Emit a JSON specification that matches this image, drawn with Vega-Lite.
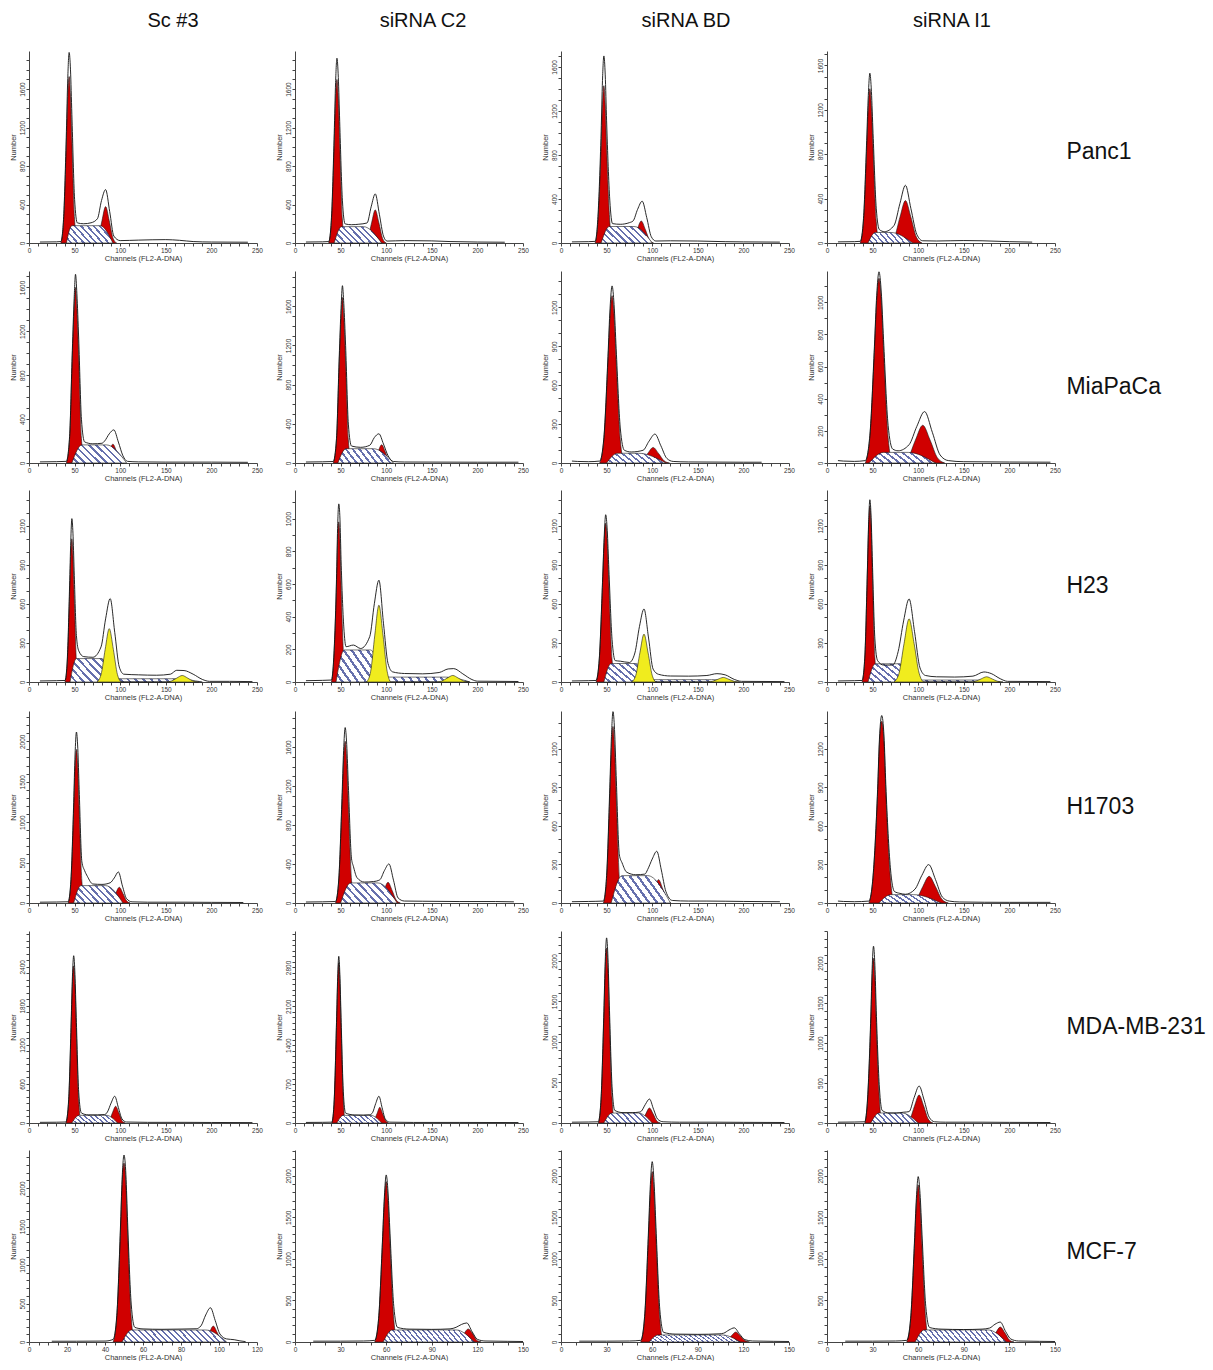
{"$schema":"https://vega.github.io/schema/vega-lite/v6.json","background":"white","padding":{"left":8,"top":10,"right":0,"bottom":0},
"params":[
{"name":"hA","value":{"gradient":"linear","x1":0,"y1":1,"x2":1.2,"y2":0.6,"stops":[{"offset":0,"color":"#fff"},{"offset":0.065,"color":"#fff"},{"offset":0.065,"color":"#6670ad"},{"offset":0.1,"color":"#6670ad"},{"offset":0.1,"color":"#fff"},{"offset":0.165,"color":"#fff"},{"offset":0.165,"color":"#6670ad"},{"offset":0.2,"color":"#6670ad"},{"offset":0.2,"color":"#fff"},{"offset":0.265,"color":"#fff"},{"offset":0.265,"color":"#6670ad"},{"offset":0.3,"color":"#6670ad"},{"offset":0.3,"color":"#fff"},{"offset":0.365,"color":"#fff"},{"offset":0.365,"color":"#6670ad"},{"offset":0.4,"color":"#6670ad"},{"offset":0.4,"color":"#fff"},{"offset":0.465,"color":"#fff"},{"offset":0.465,"color":"#6670ad"},{"offset":0.5,"color":"#6670ad"},{"offset":0.5,"color":"#fff"},{"offset":0.565,"color":"#fff"},{"offset":0.565,"color":"#6670ad"},{"offset":0.6,"color":"#6670ad"},{"offset":0.6,"color":"#fff"},{"offset":0.665,"color":"#fff"},{"offset":0.665,"color":"#6670ad"},{"offset":0.7,"color":"#6670ad"},{"offset":0.7,"color":"#fff"},{"offset":0.765,"color":"#fff"},{"offset":0.765,"color":"#6670ad"},{"offset":0.8,"color":"#6670ad"},{"offset":0.8,"color":"#fff"},{"offset":0.865,"color":"#fff"},{"offset":0.865,"color":"#6670ad"},{"offset":0.9,"color":"#6670ad"},{"offset":0.9,"color":"#fff"},{"offset":0.965,"color":"#fff"},{"offset":0.965,"color":"#6670ad"},{"offset":1,"color":"#6670ad"}]}},
{"name":"hB","value":{"gradient":"linear","x1":0,"y1":1,"x2":1.154,"y2":0.769,"stops":[{"offset":0,"color":"#fff"},{"offset":0.065,"color":"#fff"},{"offset":0.065,"color":"#6670ad"},{"offset":0.1,"color":"#6670ad"},{"offset":0.1,"color":"#fff"},{"offset":0.165,"color":"#fff"},{"offset":0.165,"color":"#6670ad"},{"offset":0.2,"color":"#6670ad"},{"offset":0.2,"color":"#fff"},{"offset":0.265,"color":"#fff"},{"offset":0.265,"color":"#6670ad"},{"offset":0.3,"color":"#6670ad"},{"offset":0.3,"color":"#fff"},{"offset":0.365,"color":"#fff"},{"offset":0.365,"color":"#6670ad"},{"offset":0.4,"color":"#6670ad"},{"offset":0.4,"color":"#fff"},{"offset":0.465,"color":"#fff"},{"offset":0.465,"color":"#6670ad"},{"offset":0.5,"color":"#6670ad"},{"offset":0.5,"color":"#fff"},{"offset":0.565,"color":"#fff"},{"offset":0.565,"color":"#6670ad"},{"offset":0.6,"color":"#6670ad"},{"offset":0.6,"color":"#fff"},{"offset":0.665,"color":"#fff"},{"offset":0.665,"color":"#6670ad"},{"offset":0.7,"color":"#6670ad"},{"offset":0.7,"color":"#fff"},{"offset":0.765,"color":"#fff"},{"offset":0.765,"color":"#6670ad"},{"offset":0.8,"color":"#6670ad"},{"offset":0.8,"color":"#fff"},{"offset":0.865,"color":"#fff"},{"offset":0.865,"color":"#6670ad"},{"offset":0.9,"color":"#6670ad"},{"offset":0.9,"color":"#fff"},{"offset":0.965,"color":"#fff"},{"offset":0.965,"color":"#6670ad"},{"offset":1,"color":"#6670ad"}]}},
{"name":"hC","value":{"gradient":"linear","x1":0,"y1":1,"x2":1.135,"y2":0.811,"stops":[{"offset":0,"color":"#fff"},{"offset":0.0325,"color":"#fff"},{"offset":0.0325,"color":"#6670ad"},{"offset":0.05,"color":"#6670ad"},{"offset":0.05,"color":"#fff"},{"offset":0.0825,"color":"#fff"},{"offset":0.0825,"color":"#6670ad"},{"offset":0.1,"color":"#6670ad"},{"offset":0.1,"color":"#fff"},{"offset":0.1325,"color":"#fff"},{"offset":0.1325,"color":"#6670ad"},{"offset":0.15,"color":"#6670ad"},{"offset":0.15,"color":"#fff"},{"offset":0.1825,"color":"#fff"},{"offset":0.1825,"color":"#6670ad"},{"offset":0.2,"color":"#6670ad"},{"offset":0.2,"color":"#fff"},{"offset":0.2325,"color":"#fff"},{"offset":0.2325,"color":"#6670ad"},{"offset":0.25,"color":"#6670ad"},{"offset":0.25,"color":"#fff"},{"offset":0.2825,"color":"#fff"},{"offset":0.2825,"color":"#6670ad"},{"offset":0.3,"color":"#6670ad"},{"offset":0.3,"color":"#fff"},{"offset":0.3325,"color":"#fff"},{"offset":0.3325,"color":"#6670ad"},{"offset":0.35,"color":"#6670ad"},{"offset":0.35,"color":"#fff"},{"offset":0.3825,"color":"#fff"},{"offset":0.3825,"color":"#6670ad"},{"offset":0.4,"color":"#6670ad"},{"offset":0.4,"color":"#fff"},{"offset":0.4325,"color":"#fff"},{"offset":0.4325,"color":"#6670ad"},{"offset":0.45,"color":"#6670ad"},{"offset":0.45,"color":"#fff"},{"offset":0.4825,"color":"#fff"},{"offset":0.4825,"color":"#6670ad"},{"offset":0.5,"color":"#6670ad"},{"offset":0.5,"color":"#fff"},{"offset":0.5325,"color":"#fff"},{"offset":0.5325,"color":"#6670ad"},{"offset":0.55,"color":"#6670ad"},{"offset":0.55,"color":"#fff"},{"offset":0.5825,"color":"#fff"},{"offset":0.5825,"color":"#6670ad"},{"offset":0.6,"color":"#6670ad"},{"offset":0.6,"color":"#fff"},{"offset":0.6325,"color":"#fff"},{"offset":0.6325,"color":"#6670ad"},{"offset":0.65,"color":"#6670ad"},{"offset":0.65,"color":"#fff"},{"offset":0.6825,"color":"#fff"},{"offset":0.6825,"color":"#6670ad"},{"offset":0.7,"color":"#6670ad"},{"offset":0.7,"color":"#fff"},{"offset":0.7325,"color":"#fff"},{"offset":0.7325,"color":"#6670ad"},{"offset":0.75,"color":"#6670ad"},{"offset":0.75,"color":"#fff"},{"offset":0.7825,"color":"#fff"},{"offset":0.7825,"color":"#6670ad"},{"offset":0.8,"color":"#6670ad"},{"offset":0.8,"color":"#fff"},{"offset":0.8325,"color":"#fff"},{"offset":0.8325,"color":"#6670ad"},{"offset":0.85,"color":"#6670ad"},{"offset":0.85,"color":"#fff"},{"offset":0.8825,"color":"#fff"},{"offset":0.8825,"color":"#6670ad"},{"offset":0.9,"color":"#6670ad"},{"offset":0.9,"color":"#fff"},{"offset":0.9325,"color":"#fff"},{"offset":0.9325,"color":"#6670ad"},{"offset":0.95,"color":"#6670ad"},{"offset":0.95,"color":"#fff"},{"offset":0.9825,"color":"#fff"},{"offset":0.9825,"color":"#6670ad"},{"offset":1,"color":"#6670ad"}]}},
{"name":"hD","value":{"gradient":"linear","x1":0,"y1":1,"x2":1.098,"y2":0.878,"stops":[{"offset":0,"color":"#fff"},{"offset":0.0325,"color":"#fff"},{"offset":0.0325,"color":"#6670ad"},{"offset":0.05,"color":"#6670ad"},{"offset":0.05,"color":"#fff"},{"offset":0.0825,"color":"#fff"},{"offset":0.0825,"color":"#6670ad"},{"offset":0.1,"color":"#6670ad"},{"offset":0.1,"color":"#fff"},{"offset":0.1325,"color":"#fff"},{"offset":0.1325,"color":"#6670ad"},{"offset":0.15,"color":"#6670ad"},{"offset":0.15,"color":"#fff"},{"offset":0.1825,"color":"#fff"},{"offset":0.1825,"color":"#6670ad"},{"offset":0.2,"color":"#6670ad"},{"offset":0.2,"color":"#fff"},{"offset":0.2325,"color":"#fff"},{"offset":0.2325,"color":"#6670ad"},{"offset":0.25,"color":"#6670ad"},{"offset":0.25,"color":"#fff"},{"offset":0.2825,"color":"#fff"},{"offset":0.2825,"color":"#6670ad"},{"offset":0.3,"color":"#6670ad"},{"offset":0.3,"color":"#fff"},{"offset":0.3325,"color":"#fff"},{"offset":0.3325,"color":"#6670ad"},{"offset":0.35,"color":"#6670ad"},{"offset":0.35,"color":"#fff"},{"offset":0.3825,"color":"#fff"},{"offset":0.3825,"color":"#6670ad"},{"offset":0.4,"color":"#6670ad"},{"offset":0.4,"color":"#fff"},{"offset":0.4325,"color":"#fff"},{"offset":0.4325,"color":"#6670ad"},{"offset":0.45,"color":"#6670ad"},{"offset":0.45,"color":"#fff"},{"offset":0.4825,"color":"#fff"},{"offset":0.4825,"color":"#6670ad"},{"offset":0.5,"color":"#6670ad"},{"offset":0.5,"color":"#fff"},{"offset":0.5325,"color":"#fff"},{"offset":0.5325,"color":"#6670ad"},{"offset":0.55,"color":"#6670ad"},{"offset":0.55,"color":"#fff"},{"offset":0.5825,"color":"#fff"},{"offset":0.5825,"color":"#6670ad"},{"offset":0.6,"color":"#6670ad"},{"offset":0.6,"color":"#fff"},{"offset":0.6325,"color":"#fff"},{"offset":0.6325,"color":"#6670ad"},{"offset":0.65,"color":"#6670ad"},{"offset":0.65,"color":"#fff"},{"offset":0.6825,"color":"#fff"},{"offset":0.6825,"color":"#6670ad"},{"offset":0.7,"color":"#6670ad"},{"offset":0.7,"color":"#fff"},{"offset":0.7325,"color":"#fff"},{"offset":0.7325,"color":"#6670ad"},{"offset":0.75,"color":"#6670ad"},{"offset":0.75,"color":"#fff"},{"offset":0.7825,"color":"#fff"},{"offset":0.7825,"color":"#6670ad"},{"offset":0.8,"color":"#6670ad"},{"offset":0.8,"color":"#fff"},{"offset":0.8325,"color":"#fff"},{"offset":0.8325,"color":"#6670ad"},{"offset":0.85,"color":"#6670ad"},{"offset":0.85,"color":"#fff"},{"offset":0.8825,"color":"#fff"},{"offset":0.8825,"color":"#6670ad"},{"offset":0.9,"color":"#6670ad"},{"offset":0.9,"color":"#fff"},{"offset":0.9325,"color":"#fff"},{"offset":0.9325,"color":"#6670ad"},{"offset":0.95,"color":"#6670ad"},{"offset":0.95,"color":"#fff"},{"offset":0.9825,"color":"#fff"},{"offset":0.9825,"color":"#6670ad"},{"offset":1,"color":"#6670ad"}]}}
],
"datasets":{
"p11":[{"k":"r","x":35,"y":0},{"k":"r","x":38,"y":242},{"k":"r","x":41,"y":1055},{"k":"r","x":42.5,"y":1522},{"k":"r","x":44,"y":1730},{"k":"r","x":45.5,"y":1522},{"k":"r","x":47,"y":1055},{"k":"r","x":50,"y":242},{"k":"r","x":53,"y":0},{"k":"r","x":72,"y":0},{"k":"r","x":76,"y":53},{"k":"r","x":80,"y":231},{"k":"r","x":84,"y":378},{"k":"r","x":88,"y":231},{"k":"r","x":92,"y":53},{"k":"r","x":96,"y":0},
{"k":"s","x":41,"y":0},{"k":"s","x":47,"y":180},{"k":"s","x":78,"y":180},{"k":"s","x":92,"y":0},
{"k":"t","x":12,"y":10},{"k":"t","x":30,"y":12},{"k":"t","x":35,"y":15},{"k":"t","x":38,"y":273},{"k":"t","x":41,"y":1157},{"k":"t","x":42.5,"y":1709},{"k":"t","x":44,"y":1980},{"k":"t","x":45.5,"y":1799},{"k":"t","x":47,"y":1337},{"k":"t","x":50,"y":453},{"k":"t","x":53,"y":209},{"k":"t","x":60,"y":200},{"k":"t","x":68,"y":210},{"k":"t","x":75,"y":252},{"k":"t","x":79.5,"y":441},{"k":"t","x":84,"y":555},{"k":"t","x":88.5,"y":325},{"k":"t","x":93,"y":72},{"k":"t","x":100,"y":25},{"k":"t","x":120,"y":30},{"k":"t","x":150,"y":35},{"k":"t","x":165,"y":28},{"k":"t","x":180,"y":15},{"k":"t","x":200,"y":10},{"k":"t","x":240,"y":8}],
"p12":[{"k":"r","x":37,"y":0},{"k":"r","x":40,"y":238},{"k":"r","x":43,"y":1037},{"k":"r","x":44.5,"y":1496},{"k":"r","x":46,"y":1700},{"k":"r","x":47.5,"y":1496},{"k":"r","x":49,"y":1037},{"k":"r","x":52,"y":238},{"k":"r","x":55,"y":0},{"k":"r","x":76,"y":0},{"k":"r","x":80,"y":48},{"k":"r","x":84,"y":210},{"k":"r","x":88,"y":344},{"k":"r","x":92,"y":210},{"k":"r","x":96,"y":48},{"k":"r","x":100,"y":0},
{"k":"s","x":43,"y":0},{"k":"s","x":51,"y":170},{"k":"s","x":75,"y":170},{"k":"s","x":95,"y":0},
{"k":"t","x":12,"y":10},{"k":"t","x":30,"y":12},{"k":"t","x":37,"y":15},{"k":"t","x":40,"y":268},{"k":"t","x":43,"y":1136},{"k":"t","x":44.5,"y":1666},{"k":"t","x":46,"y":1920},{"k":"t","x":47.5,"y":1719},{"k":"t","x":49,"y":1264},{"k":"t","x":52,"y":438},{"k":"t","x":55,"y":198},{"k":"t","x":62,"y":190},{"k":"t","x":70,"y":195},{"k":"t","x":79,"y":208},{"k":"t","x":83.5,"y":376},{"k":"t","x":88,"y":510},{"k":"t","x":92.5,"y":299},{"k":"t","x":97,"y":72},{"k":"t","x":101,"y":20},{"k":"t","x":120,"y":25},{"k":"t","x":150,"y":22},{"k":"t","x":170,"y":15},{"k":"t","x":200,"y":10},{"k":"t","x":230,"y":8}],
"p13":[{"k":"r","x":37.5,"y":0},{"k":"r","x":40.5,"y":200},{"k":"r","x":44,"y":872},{"k":"r","x":45.5,"y":1258},{"k":"r","x":47,"y":1430},{"k":"r","x":48.5,"y":1258},{"k":"r","x":50,"y":872},{"k":"r","x":53.5,"y":200},{"k":"r","x":56.5,"y":0},{"k":"r","x":74.5,"y":0},{"k":"r","x":79,"y":28},{"k":"r","x":83.5,"y":122},{"k":"r","x":88,"y":200},{"k":"r","x":92.5,"y":122},{"k":"r","x":97,"y":28},{"k":"r","x":101.5,"y":0},
{"k":"s","x":44,"y":0},{"k":"s","x":53,"y":150},{"k":"s","x":80,"y":150},{"k":"s","x":100,"y":0},
{"k":"t","x":12,"y":10},{"k":"t","x":30,"y":12},{"k":"t","x":37.5,"y":15},{"k":"t","x":40.5,"y":240},{"k":"t","x":44,"y":1010},{"k":"t","x":45.5,"y":1478},{"k":"t","x":47,"y":1700},{"k":"t","x":48.5,"y":1528},{"k":"t","x":50,"y":1110},{"k":"t","x":53.5,"y":390},{"k":"t","x":56.5,"y":176},{"k":"t","x":65,"y":170},{"k":"t","x":75,"y":185},{"k":"t","x":79,"y":200},{"k":"t","x":84,"y":306},{"k":"t","x":89,"y":380},{"k":"t","x":94,"y":231},{"k":"t","x":99,"y":57},{"k":"t","x":104,"y":18},{"k":"t","x":120,"y":20},{"k":"t","x":150,"y":18},{"k":"t","x":180,"y":12},{"k":"t","x":200,"y":10},{"k":"t","x":240,"y":8}],
"p14":[{"k":"r","x":36.5,"y":0},{"k":"r","x":40,"y":195},{"k":"r","x":43.5,"y":848},{"k":"r","x":45.3,"y":1223},{"k":"r","x":47,"y":1390},{"k":"r","x":48.7,"y":1223},{"k":"r","x":50.5,"y":848},{"k":"r","x":54,"y":195},{"k":"r","x":57.5,"y":0},{"k":"r","x":68,"y":0},{"k":"r","x":74,"y":53},{"k":"r","x":80,"y":233},{"k":"r","x":86,"y":382},{"k":"r","x":92,"y":233},{"k":"r","x":98,"y":53},{"k":"r","x":104,"y":0},
{"k":"s","x":45,"y":0},{"k":"s","x":53,"y":95},{"k":"s","x":70,"y":95},{"k":"s","x":94,"y":0},
{"k":"t","x":12,"y":10},{"k":"t","x":30,"y":12},{"k":"t","x":36.5,"y":15},{"k":"t","x":40,"y":219},{"k":"t","x":43.5,"y":923},{"k":"t","x":45.3,"y":1330},{"k":"t","x":47,"y":1530},{"k":"t","x":48.7,"y":1366},{"k":"t","x":50.5,"y":988},{"k":"t","x":54,"y":314},{"k":"t","x":57.5,"y":120},{"k":"t","x":63,"y":102},{"k":"t","x":73.5,"y":158},{"k":"t","x":80,"y":357},{"k":"t","x":86,"y":520},{"k":"t","x":92,"y":310},{"k":"t","x":98.5,"y":77},{"k":"t","x":105,"y":20},{"k":"t","x":120,"y":18},{"k":"t","x":150,"y":22},{"k":"t","x":170,"y":20},{"k":"t","x":200,"y":12},{"k":"t","x":225,"y":8}],
"p21":[{"k":"r","x":41,"y":0},{"k":"r","x":44.5,"y":224},{"k":"r","x":47.5,"y":976},{"k":"r","x":49.5,"y":1408},{"k":"r","x":51,"y":1600},{"k":"r","x":52.5,"y":1408},{"k":"r","x":54.5,"y":976},{"k":"r","x":57.5,"y":224},{"k":"r","x":61,"y":0},{"k":"r","x":80,"y":0},{"k":"r","x":84,"y":24},{"k":"r","x":88,"y":105},{"k":"r","x":92,"y":172},{"k":"r","x":96,"y":105},{"k":"r","x":100,"y":24},{"k":"r","x":104,"y":0},
{"k":"s","x":47,"y":0},{"k":"s","x":58,"y":165},{"k":"s","x":85,"y":165},{"k":"s","x":107,"y":0},
{"k":"t","x":12,"y":10},{"k":"t","x":30,"y":12},{"k":"t","x":41,"y":15},{"k":"t","x":44.5,"y":241},{"k":"t","x":47.5,"y":1024},{"k":"t","x":49.5,"y":1499},{"k":"t","x":51,"y":1720},{"k":"t","x":52.5,"y":1544},{"k":"t","x":54.5,"y":1129},{"k":"t","x":57.5,"y":399},{"k":"t","x":61,"y":192},{"k":"t","x":70,"y":175},{"k":"t","x":80,"y":180},{"k":"t","x":83,"y":201},{"k":"t","x":88,"y":266},{"k":"t","x":93,"y":302},{"k":"t","x":98,"y":191},{"k":"t","x":103,"y":66},{"k":"t","x":108,"y":15},{"k":"t","x":120,"y":10},{"k":"t","x":150,"y":8},{"k":"t","x":200,"y":8},{"k":"t","x":240,"y":6}],
"p22":[{"k":"r","x":42,"y":0},{"k":"r","x":45.5,"y":237},{"k":"r","x":48.5,"y":1031},{"k":"r","x":50.5,"y":1487},{"k":"r","x":52,"y":1690},{"k":"r","x":53.5,"y":1487},{"k":"r","x":55.5,"y":1031},{"k":"r","x":58.5,"y":237},{"k":"r","x":62,"y":0},{"k":"r","x":83,"y":0},{"k":"r","x":87,"y":26},{"k":"r","x":91,"y":113},{"k":"r","x":95,"y":186},{"k":"r","x":99,"y":113},{"k":"r","x":103,"y":26},{"k":"r","x":107,"y":0},
{"k":"s","x":47,"y":0},{"k":"s","x":56,"y":146},{"k":"s","x":86,"y":146},{"k":"s","x":108,"y":0},
{"k":"t","x":12,"y":10},{"k":"t","x":30,"y":12},{"k":"t","x":42,"y":15},{"k":"t","x":45.5,"y":251},{"k":"t","x":48.5,"y":1083},{"k":"t","x":50.5,"y":1580},{"k":"t","x":52,"y":1810},{"k":"t","x":53.5,"y":1628},{"k":"t","x":55.5,"y":1197},{"k":"t","x":58.5,"y":397},{"k":"t","x":62,"y":173},{"k":"t","x":72,"y":160},{"k":"t","x":82,"y":181},{"k":"t","x":87,"y":260},{"k":"t","x":92,"y":298},{"k":"t","x":97,"y":194},{"k":"t","x":102,"y":75},{"k":"t","x":108,"y":15},{"k":"t","x":120,"y":10},{"k":"t","x":200,"y":8},{"k":"t","x":245,"y":8}],
"p23":[{"k":"r","x":42.5,"y":0},{"k":"r","x":47,"y":181},{"k":"r","x":51.5,"y":787},{"k":"r","x":53.8,"y":1135},{"k":"r","x":56,"y":1290},{"k":"r","x":58.2,"y":1135},{"k":"r","x":60.5,"y":787},{"k":"r","x":65,"y":181},{"k":"r","x":69.5,"y":0},{"k":"r","x":83,"y":0},{"k":"r","x":89,"y":17},{"k":"r","x":95,"y":73},{"k":"r","x":101,"y":120},{"k":"r","x":107,"y":73},{"k":"r","x":113,"y":17},{"k":"r","x":119,"y":0},
{"k":"s","x":50,"y":0},{"k":"s","x":62,"y":75},{"k":"s","x":85,"y":75},{"k":"s","x":115,"y":0},
{"k":"t","x":12,"y":15},{"k":"t","x":18,"y":12},{"k":"t","x":30,"y":10},{"k":"t","x":42.5,"y":15},{"k":"t","x":47,"y":195},{"k":"t","x":51.5,"y":822},{"k":"t","x":53.8,"y":1194},{"k":"t","x":56,"y":1365},{"k":"t","x":58.2,"y":1221},{"k":"t","x":60.5,"y":880},{"k":"t","x":65,"y":270},{"k":"t","x":69.5,"y":98},{"k":"t","x":77,"y":85},{"k":"t","x":90,"y":98},{"k":"t","x":96.5,"y":168},{"k":"t","x":103,"y":223},{"k":"t","x":109.5,"y":133},{"k":"t","x":116,"y":36},{"k":"t","x":123,"y":12},{"k":"t","x":140,"y":8},{"k":"t","x":200,"y":6},{"k":"t","x":220,"y":6}],
"p24":[{"k":"r","x":42,"y":0},{"k":"r","x":47,"y":161},{"k":"r","x":52,"y":702},{"k":"r","x":54.5,"y":1012},{"k":"r","x":57,"y":1150},{"k":"r","x":59.5,"y":1012},{"k":"r","x":62,"y":702},{"k":"r","x":67,"y":161},{"k":"r","x":72,"y":0},{"k":"r","x":81,"y":0},{"k":"r","x":89,"y":33},{"k":"r","x":97,"y":143},{"k":"r","x":105,"y":235},{"k":"r","x":113,"y":143},{"k":"r","x":121,"y":33},{"k":"r","x":129,"y":0},
{"k":"s","x":46,"y":0},{"k":"s","x":62,"y":66},{"k":"s","x":89,"y":66},{"k":"s","x":119,"y":0},
{"k":"t","x":12,"y":15},{"k":"t","x":18,"y":12},{"k":"t","x":30,"y":10},{"k":"t","x":42,"y":15},{"k":"t","x":47,"y":173},{"k":"t","x":52,"y":727},{"k":"t","x":54.5,"y":1044},{"k":"t","x":57,"y":1190},{"k":"t","x":59.5,"y":1064},{"k":"t","x":62,"y":768},{"k":"t","x":67,"y":235},{"k":"t","x":72,"y":87},{"k":"t","x":78,"y":76},{"k":"t","x":90,"y":114},{"k":"t","x":98.5,"y":228},{"k":"t","x":107,"y":320},{"k":"t","x":115.5,"y":191},{"k":"t","x":124,"y":50},{"k":"t","x":133,"y":15},{"k":"t","x":150,"y":8},{"k":"t","x":200,"y":6},{"k":"t","x":245,"y":5}],
"p31":[{"k":"r","x":39.5,"y":0},{"k":"r","x":42,"y":154},{"k":"r","x":44.5,"y":671},{"k":"r","x":45.8,"y":968},{"k":"r","x":47,"y":1100},{"k":"r","x":48.2,"y":968},{"k":"r","x":49.5,"y":671},{"k":"r","x":52,"y":154},{"k":"r","x":54.5,"y":0},
{"k":"y","x":74.5,"y":0},{"k":"y","x":79,"y":57},{"k":"y","x":83.5,"y":250},{"k":"y","x":88,"y":410},{"k":"y","x":92.5,"y":250},{"k":"y","x":97,"y":57},{"k":"y","x":101.5,"y":0},{"k":"y","x":150,"y":0},{"k":"y","x":156,"y":7},{"k":"y","x":162,"y":30},{"k":"y","x":168,"y":50},{"k":"y","x":174,"y":30},{"k":"y","x":180,"y":7},{"k":"y","x":186,"y":0},
{"k":"s","x":45,"y":0},{"k":"s","x":52,"y":180},{"k":"s","x":80,"y":180},{"k":"s","x":92,"y":25},{"k":"s","x":160,"y":25},{"k":"s","x":190,"y":0},
{"k":"t","x":12,"y":8},{"k":"t","x":30,"y":10},{"k":"t","x":39.5,"y":12},{"k":"t","x":42,"y":177},{"k":"t","x":44.5,"y":738},{"k":"t","x":45.8,"y":1082},{"k":"t","x":47,"y":1255},{"k":"t","x":48.2,"y":1143},{"k":"t","x":49.5,"y":854},{"k":"t","x":52,"y":357},{"k":"t","x":54.5,"y":240},{"k":"t","x":60,"y":195},{"k":"t","x":70,"y":190},{"k":"t","x":79,"y":270},{"k":"t","x":84,"y":485},{"k":"t","x":89,"y":641},{"k":"t","x":94,"y":382},{"k":"t","x":99,"y":115},{"k":"t","x":104,"y":60},{"k":"t","x":120,"y":55},{"k":"t","x":140,"y":52},{"k":"t","x":155,"y":60},{"k":"t","x":162,"y":90},{"k":"t","x":170,"y":88},{"k":"t","x":180,"y":60},{"k":"t","x":190,"y":20},{"k":"t","x":198,"y":5},{"k":"t","x":220,"y":5},{"k":"t","x":245,"y":3}],
"p32":[{"k":"r","x":40,"y":0},{"k":"r","x":42.5,"y":137},{"k":"r","x":45.5,"y":598},{"k":"r","x":46.7,"y":862},{"k":"r","x":48,"y":980},{"k":"r","x":49.3,"y":862},{"k":"r","x":50.5,"y":598},{"k":"r","x":53.5,"y":137},{"k":"r","x":56,"y":0},
{"k":"y","x":78.5,"y":0},{"k":"y","x":83,"y":66},{"k":"y","x":87.5,"y":287},{"k":"y","x":92,"y":470},{"k":"y","x":96.5,"y":287},{"k":"y","x":101,"y":66},{"k":"y","x":105.5,"y":0},{"k":"y","x":155,"y":0},{"k":"y","x":161,"y":6},{"k":"y","x":167,"y":24},{"k":"y","x":173,"y":40},{"k":"y","x":179,"y":24},{"k":"y","x":185,"y":6},{"k":"y","x":191,"y":0},
{"k":"s","x":45,"y":0},{"k":"s","x":54,"y":196},{"k":"s","x":83,"y":196},{"k":"s","x":97,"y":30},{"k":"s","x":165,"y":30},{"k":"s","x":192,"y":0},
{"k":"t","x":12,"y":8},{"k":"t","x":30,"y":10},{"k":"t","x":40,"y":12},{"k":"t","x":42.5,"y":152},{"k":"t","x":45.5,"y":629},{"k":"t","x":46.7,"y":940},{"k":"t","x":48,"y":1090},{"k":"t","x":49.3,"y":997},{"k":"t","x":50.5,"y":749},{"k":"t","x":53.5,"y":337},{"k":"t","x":56,"y":216},{"k":"t","x":64,"y":226},{"k":"t","x":72,"y":205},{"k":"t","x":82,"y":279},{"k":"t","x":87,"y":479},{"k":"t","x":92,"y":623},{"k":"t","x":97,"y":360},{"k":"t","x":102,"y":113},{"k":"t","x":107,"y":62},{"k":"t","x":120,"y":52},{"k":"t","x":140,"y":50},{"k":"t","x":158,"y":58},{"k":"t","x":168,"y":80},{"k":"t","x":174,"y":82},{"k":"t","x":184,"y":50},{"k":"t","x":194,"y":15},{"k":"t","x":200,"y":5},{"k":"t","x":245,"y":3}],
"p33":[{"k":"r","x":38.5,"y":0},{"k":"r","x":42,"y":171},{"k":"r","x":45.5,"y":744},{"k":"r","x":47.3,"y":1074},{"k":"r","x":49,"y":1220},{"k":"r","x":50.7,"y":1074},{"k":"r","x":52.5,"y":744},{"k":"r","x":56,"y":171},{"k":"r","x":59.5,"y":0},
{"k":"y","x":77.5,"y":0},{"k":"y","x":82,"y":52},{"k":"y","x":86.5,"y":224},{"k":"y","x":91,"y":368},{"k":"y","x":95.5,"y":224},{"k":"y","x":100,"y":52},{"k":"y","x":104.5,"y":0},{"k":"y","x":160,"y":0},{"k":"y","x":166,"y":5},{"k":"y","x":172,"y":21},{"k":"y","x":178,"y":35},{"k":"y","x":184,"y":21},{"k":"y","x":190,"y":5},{"k":"y","x":196,"y":0},
{"k":"s","x":47,"y":0},{"k":"s","x":55,"y":142},{"k":"s","x":83,"y":142},{"k":"s","x":93,"y":18},{"k":"s","x":165,"y":18},{"k":"s","x":190,"y":0},
{"k":"t","x":12,"y":8},{"k":"t","x":30,"y":10},{"k":"t","x":38.5,"y":12},{"k":"t","x":42,"y":183},{"k":"t","x":45.5,"y":766},{"k":"t","x":47.3,"y":1105},{"k":"t","x":49,"y":1285},{"k":"t","x":50.7,"y":1166},{"k":"t","x":52.5,"y":864},{"k":"t","x":56,"y":325},{"k":"t","x":59.5,"y":164},{"k":"t","x":65,"y":160},{"k":"t","x":75,"y":150},{"k":"t","x":81,"y":223},{"k":"t","x":86,"y":425},{"k":"t","x":91,"y":561},{"k":"t","x":96,"y":338},{"k":"t","x":101,"y":99},{"k":"t","x":107,"y":59},{"k":"t","x":120,"y":46},{"k":"t","x":140,"y":45},{"k":"t","x":160,"y":50},{"k":"t","x":171,"y":64},{"k":"t","x":180,"y":55},{"k":"t","x":190,"y":20},{"k":"t","x":198,"y":5},{"k":"t","x":245,"y":3}],
"p34":[{"k":"r","x":38.5,"y":0},{"k":"r","x":41.5,"y":189},{"k":"r","x":44.2,"y":824},{"k":"r","x":45.6,"y":1188},{"k":"r","x":47,"y":1350},{"k":"r","x":48.4,"y":1188},{"k":"r","x":49.8,"y":824},{"k":"r","x":52.5,"y":189},{"k":"r","x":55.5,"y":0},
{"k":"y","x":73.5,"y":0},{"k":"y","x":79,"y":68},{"k":"y","x":84.5,"y":296},{"k":"y","x":90,"y":485},{"k":"y","x":95.5,"y":296},{"k":"y","x":101,"y":68},{"k":"y","x":106.5,"y":0},{"k":"y","x":157,"y":0},{"k":"y","x":163,"y":6},{"k":"y","x":169,"y":24},{"k":"y","x":175,"y":40},{"k":"y","x":181,"y":24},{"k":"y","x":187,"y":6},{"k":"y","x":193,"y":0},
{"k":"s","x":45,"y":0},{"k":"s","x":53,"y":140},{"k":"s","x":80,"y":140},{"k":"s","x":92,"y":15},{"k":"s","x":165,"y":15},{"k":"s","x":190,"y":0},
{"k":"t","x":12,"y":8},{"k":"t","x":30,"y":10},{"k":"t","x":38.5,"y":12},{"k":"t","x":41.5,"y":200},{"k":"t","x":44.2,"y":837},{"k":"t","x":45.6,"y":1213},{"k":"t","x":47,"y":1400},{"k":"t","x":48.4,"y":1262},{"k":"t","x":49.8,"y":921},{"k":"t","x":52.5,"y":331},{"k":"t","x":55.5,"y":164},{"k":"t","x":62,"y":130},{"k":"t","x":72,"y":130},{"k":"t","x":78,"y":233},{"k":"t","x":84,"y":469},{"k":"t","x":90,"y":638},{"k":"t","x":96,"y":386},{"k":"t","x":102,"y":108},{"k":"t","x":108,"y":50},{"k":"t","x":120,"y":40},{"k":"t","x":140,"y":38},{"k":"t","x":160,"y":45},{"k":"t","x":172,"y":77},{"k":"t","x":180,"y":65},{"k":"t","x":190,"y":25},{"k":"t","x":198,"y":5},{"k":"t","x":245,"y":3}],
"p41":[{"k":"r","x":43,"y":0},{"k":"r","x":46,"y":266},{"k":"r","x":49,"y":1159},{"k":"r","x":50.5,"y":1672},{"k":"r","x":52,"y":1900},{"k":"r","x":53.5,"y":1672},{"k":"r","x":55,"y":1159},{"k":"r","x":58,"y":266},{"k":"r","x":61,"y":0},{"k":"r","x":87,"y":0},{"k":"r","x":91,"y":27},{"k":"r","x":95,"y":119},{"k":"r","x":99,"y":195},{"k":"r","x":103,"y":119},{"k":"r","x":107,"y":27},{"k":"r","x":111,"y":0},
{"k":"s","x":49,"y":0},{"k":"s","x":57,"y":215},{"k":"s","x":84,"y":215},{"k":"s","x":103,"y":0},
{"k":"t","x":12,"y":10},{"k":"t","x":30,"y":12},{"k":"t","x":43,"y":15},{"k":"t","x":46,"y":293},{"k":"t","x":49,"y":1245},{"k":"t","x":50.5,"y":1831},{"k":"t","x":52,"y":2115},{"k":"t","x":53.5,"y":1912},{"k":"t","x":55,"y":1406},{"k":"t","x":58,"y":508},{"k":"t","x":61,"y":400},{"k":"t","x":64,"y":330},{"k":"t","x":70,"y":235},{"k":"t","x":80,"y":230},{"k":"t","x":89,"y":250},{"k":"t","x":93.5,"y":310},{"k":"t","x":98,"y":384},{"k":"t","x":102.5,"y":209},{"k":"t","x":107,"y":54},{"k":"t","x":113,"y":14},{"k":"t","x":130,"y":10},{"k":"t","x":170,"y":10},{"k":"t","x":200,"y":8},{"k":"t","x":235,"y":6}],
"p42":[{"k":"r","x":44.5,"y":0},{"k":"r","x":48,"y":232},{"k":"r","x":51.5,"y":1013},{"k":"r","x":53.3,"y":1461},{"k":"r","x":55,"y":1660},{"k":"r","x":56.7,"y":1461},{"k":"r","x":58.5,"y":1013},{"k":"r","x":62,"y":232},{"k":"r","x":65.5,"y":0},{"k":"r","x":88.5,"y":0},{"k":"r","x":93,"y":30},{"k":"r","x":97.5,"y":129},{"k":"r","x":102,"y":212},{"k":"r","x":106.5,"y":129},{"k":"r","x":111,"y":30},{"k":"r","x":115.5,"y":0},
{"k":"s","x":50,"y":0},{"k":"s","x":61,"y":206},{"k":"s","x":91,"y":206},{"k":"s","x":112,"y":0},
{"k":"t","x":12,"y":10},{"k":"t","x":30,"y":12},{"k":"t","x":44.5,"y":15},{"k":"t","x":48,"y":247},{"k":"t","x":51.5,"y":1073},{"k":"t","x":53.3,"y":1563},{"k":"t","x":55,"y":1800},{"k":"t","x":56.7,"y":1627},{"k":"t","x":58.5,"y":1204},{"k":"t","x":62,"y":453},{"k":"t","x":64,"y":377},{"k":"t","x":68,"y":260},{"k":"t","x":76,"y":215},{"k":"t","x":86,"y":220},{"k":"t","x":93,"y":238},{"k":"t","x":98,"y":332},{"k":"t","x":103,"y":401},{"k":"t","x":108,"y":234},{"k":"t","x":113,"y":52},{"k":"t","x":120,"y":20},{"k":"t","x":140,"y":18},{"k":"t","x":180,"y":15},{"k":"t","x":220,"y":15},{"k":"t","x":240,"y":12}],
"p43":[{"k":"r","x":46.5,"y":0},{"k":"r","x":50,"y":193},{"k":"r","x":53.5,"y":839},{"k":"r","x":55.3,"y":1210},{"k":"r","x":57,"y":1375},{"k":"r","x":58.7,"y":1210},{"k":"r","x":60.5,"y":839},{"k":"r","x":64,"y":193},{"k":"r","x":67.5,"y":0},{"k":"r","x":93.5,"y":0},{"k":"r","x":98,"y":25},{"k":"r","x":102.5,"y":111},{"k":"r","x":107,"y":182},{"k":"r","x":111.5,"y":111},{"k":"r","x":116,"y":25},{"k":"r","x":120.5,"y":0},
{"k":"s","x":55,"y":0},{"k":"s","x":67,"y":213},{"k":"s","x":95,"y":213},{"k":"s","x":120,"y":0},
{"k":"t","x":12,"y":10},{"k":"t","x":30,"y":12},{"k":"t","x":46.5,"y":15},{"k":"t","x":50,"y":214},{"k":"t","x":53.5,"y":897},{"k":"t","x":55.3,"y":1295},{"k":"t","x":57,"y":1490},{"k":"t","x":58.7,"y":1350},{"k":"t","x":60.5,"y":994},{"k":"t","x":64,"y":374},{"k":"t","x":67,"y":312},{"k":"t","x":72,"y":240},{"k":"t","x":82,"y":220},{"k":"t","x":92,"y":225},{"k":"t","x":95,"y":260},{"k":"t","x":100,"y":342},{"k":"t","x":105,"y":403},{"k":"t","x":110,"y":257},{"k":"t","x":115,"y":90},{"k":"t","x":122,"y":20},{"k":"t","x":140,"y":15},{"k":"t","x":160,"y":15},{"k":"t","x":200,"y":12},{"k":"t","x":240,"y":10}],
"p44":[{"k":"r","x":46,"y":0},{"k":"r","x":50.5,"y":198},{"k":"r","x":55.5,"y":863},{"k":"r","x":57.5,"y":1245},{"k":"r","x":60,"y":1415},{"k":"r","x":62.5,"y":1245},{"k":"r","x":64.5,"y":863},{"k":"r","x":69.5,"y":198},{"k":"r","x":74,"y":0},{"k":"r","x":91,"y":0},{"k":"r","x":98,"y":29},{"k":"r","x":105,"y":127},{"k":"r","x":112,"y":208},{"k":"r","x":119,"y":127},{"k":"r","x":126,"y":29},{"k":"r","x":133,"y":0},
{"k":"s","x":57,"y":0},{"k":"s","x":70,"y":65},{"k":"s","x":95,"y":65},{"k":"s","x":125,"y":0},
{"k":"t","x":12,"y":15},{"k":"t","x":18,"y":12},{"k":"t","x":30,"y":10},{"k":"t","x":46,"y":15},{"k":"t","x":50.5,"y":211},{"k":"t","x":55.5,"y":885},{"k":"t","x":57.5,"y":1276},{"k":"t","x":60,"y":1460},{"k":"t","x":62.5,"y":1300},{"k":"t","x":64.5,"y":922},{"k":"t","x":69.5,"y":274},{"k":"t","x":74,"y":89},{"k":"t","x":80,"y":75},{"k":"t","x":86,"y":68},{"k":"t","x":96.5,"y":108},{"k":"t","x":104,"y":215},{"k":"t","x":111.5,"y":299},{"k":"t","x":119,"y":182},{"k":"t","x":126.5,"y":46},{"k":"t","x":134,"y":15},{"k":"t","x":145,"y":8},{"k":"t","x":200,"y":5},{"k":"t","x":245,"y":5}],
"p51":[{"k":"r","x":40.5,"y":0},{"k":"r","x":43.5,"y":338},{"k":"r","x":46.2,"y":1473},{"k":"r","x":47.6,"y":2125},{"k":"r","x":49,"y":2415},{"k":"r","x":50.4,"y":2125},{"k":"r","x":51.8,"y":1473},{"k":"r","x":54.5,"y":338},{"k":"r","x":57.5,"y":0},{"k":"r","x":84.5,"y":0},{"k":"r","x":88,"y":36},{"k":"r","x":91.5,"y":157},{"k":"r","x":95,"y":257},{"k":"r","x":98.5,"y":157},{"k":"r","x":102,"y":36},{"k":"r","x":105.5,"y":0},
{"k":"s","x":47,"y":0},{"k":"s","x":55,"y":118},{"k":"s","x":85,"y":118},{"k":"s","x":97,"y":0},
{"k":"t","x":12,"y":10},{"k":"t","x":30,"y":12},{"k":"t","x":40.5,"y":15},{"k":"t","x":43.5,"y":364},{"k":"t","x":46.2,"y":1553},{"k":"t","x":47.6,"y":2245},{"k":"t","x":49,"y":2570},{"k":"t","x":50.4,"y":2280},{"k":"t","x":51.8,"y":1624},{"k":"t","x":54.5,"y":474},{"k":"t","x":57.5,"y":153},{"k":"t","x":65,"y":125},{"k":"t","x":75,"y":125},{"k":"t","x":83,"y":130},{"k":"t","x":86,"y":170},{"k":"t","x":90,"y":306},{"k":"t","x":94,"y":411},{"k":"t","x":98,"y":237},{"k":"t","x":102,"y":62},{"k":"t","x":107,"y":15},{"k":"t","x":130,"y":10},{"k":"t","x":170,"y":10},{"k":"t","x":200,"y":8},{"k":"t","x":245,"y":6}],
"p52":[{"k":"r","x":40.5,"y":0},{"k":"r","x":43,"y":404},{"k":"r","x":45.5,"y":1760},{"k":"r","x":46.8,"y":2539},{"k":"r","x":48,"y":2885},{"k":"r","x":49.2,"y":2539},{"k":"r","x":50.5,"y":1760},{"k":"r","x":53,"y":404},{"k":"r","x":55.5,"y":0},{"k":"r","x":83.5,"y":0},{"k":"r","x":86.5,"y":39},{"k":"r","x":90,"y":172},{"k":"r","x":93,"y":282},{"k":"r","x":96,"y":172},{"k":"r","x":99.5,"y":39},{"k":"r","x":102.5,"y":0},
{"k":"s","x":46,"y":0},{"k":"s","x":53,"y":138},{"k":"s","x":83,"y":138},{"k":"s","x":95,"y":0},
{"k":"t","x":12,"y":10},{"k":"t","x":30,"y":12},{"k":"t","x":40.5,"y":15},{"k":"t","x":43,"y":423},{"k":"t","x":45.5,"y":1810},{"k":"t","x":46.8,"y":2623},{"k":"t","x":48,"y":3000},{"k":"t","x":49.2,"y":2670},{"k":"t","x":50.5,"y":1899},{"k":"t","x":53,"y":561},{"k":"t","x":55.5,"y":178},{"k":"t","x":65,"y":145},{"k":"t","x":75,"y":142},{"k":"t","x":82,"y":148},{"k":"t","x":85,"y":186},{"k":"t","x":88.5,"y":351},{"k":"t","x":92,"y":481},{"k":"t","x":95.5,"y":276},{"k":"t","x":99,"y":71},{"k":"t","x":104,"y":15},{"k":"t","x":130,"y":10},{"k":"t","x":180,"y":10},{"k":"t","x":245,"y":8}],
"p53":[{"k":"r","x":41,"y":0},{"k":"r","x":44,"y":302},{"k":"r","x":47,"y":1318},{"k":"r","x":48.5,"y":1901},{"k":"r","x":50,"y":2160},{"k":"r","x":51.5,"y":1901},{"k":"r","x":53,"y":1318},{"k":"r","x":56,"y":302},{"k":"r","x":59,"y":0},{"k":"r","x":85,"y":0},{"k":"r","x":89,"y":26},{"k":"r","x":93,"y":113},{"k":"r","x":97,"y":185},{"k":"r","x":101,"y":113},{"k":"r","x":105,"y":26},{"k":"r","x":109,"y":0},
{"k":"s","x":47,"y":0},{"k":"s","x":56,"y":123},{"k":"s","x":85,"y":123},{"k":"s","x":100,"y":0},
{"k":"t","x":12,"y":10},{"k":"t","x":30,"y":12},{"k":"t","x":41,"y":15},{"k":"t","x":44,"y":323},{"k":"t","x":47,"y":1373},{"k":"t","x":48.5,"y":1996},{"k":"t","x":50,"y":2285},{"k":"t","x":51.5,"y":2038},{"k":"t","x":53,"y":1455},{"k":"t","x":56,"y":446},{"k":"t","x":59,"y":155},{"k":"t","x":68,"y":128},{"k":"t","x":78,"y":128},{"k":"t","x":86,"y":135},{"k":"t","x":88,"y":145},{"k":"t","x":92.5,"y":230},{"k":"t","x":97,"y":296},{"k":"t","x":101.5,"y":169},{"k":"t","x":106,"y":47},{"k":"t","x":112,"y":15},{"k":"t","x":130,"y":10},{"k":"t","x":170,"y":10},{"k":"t","x":200,"y":8},{"k":"t","x":245,"y":6}],
"p54":[{"k":"r","x":41.5,"y":0},{"k":"r","x":44.5,"y":288},{"k":"r","x":48,"y":1257},{"k":"r","x":49.5,"y":1813},{"k":"r","x":51,"y":2060},{"k":"r","x":52.5,"y":1813},{"k":"r","x":54,"y":1257},{"k":"r","x":57.5,"y":288},{"k":"r","x":60.5,"y":0},{"k":"r","x":86,"y":0},{"k":"r","x":91,"y":49},{"k":"r","x":96,"y":214},{"k":"r","x":101,"y":350},{"k":"r","x":106,"y":214},{"k":"r","x":111,"y":49},{"k":"r","x":116,"y":0},
{"k":"s","x":48,"y":0},{"k":"s","x":57,"y":125},{"k":"s","x":82,"y":125},{"k":"s","x":100,"y":0},
{"k":"t","x":12,"y":10},{"k":"t","x":30,"y":12},{"k":"t","x":41.5,"y":15},{"k":"t","x":44.5,"y":312},{"k":"t","x":48,"y":1326},{"k":"t","x":49.5,"y":1930},{"k":"t","x":51,"y":2210},{"k":"t","x":52.5,"y":1972},{"k":"t","x":54,"y":1409},{"k":"t","x":57.5,"y":437},{"k":"t","x":60.5,"y":157},{"k":"t","x":68,"y":125},{"k":"t","x":76,"y":125},{"k":"t","x":84,"y":135},{"k":"t","x":90,"y":142},{"k":"t","x":95.5,"y":317},{"k":"t","x":101,"y":462},{"k":"t","x":106.5,"y":286},{"k":"t","x":112,"y":73},{"k":"t","x":118,"y":15},{"k":"t","x":130,"y":10},{"k":"t","x":170,"y":10},{"k":"t","x":200,"y":8},{"k":"t","x":245,"y":6}],
"p61":[{"k":"r","x":44.3,"y":0},{"k":"r","x":46.2,"y":326},{"k":"r","x":48.1,"y":1418},{"k":"r","x":49,"y":2046},{"k":"r","x":50,"y":2325},{"k":"r","x":51,"y":2046},{"k":"r","x":51.9,"y":1418},{"k":"r","x":53.8,"y":326},{"k":"r","x":55.7,"y":0},{"k":"r","x":91,"y":0},{"k":"r","x":93,"y":29},{"k":"r","x":95,"y":126},{"k":"r","x":97,"y":207},{"k":"r","x":99,"y":126},{"k":"r","x":101,"y":29},{"k":"r","x":103,"y":0},
{"k":"s","x":49,"y":0},{"k":"s","x":54,"y":156},{"k":"s","x":93,"y":156},{"k":"s","x":104,"y":0},
{"k":"t","x":12,"y":10},{"k":"t","x":25,"y":10},{"k":"t","x":40,"y":12},{"k":"t","x":44.3,"y":34},{"k":"t","x":46.2,"y":344},{"k":"t","x":48.1,"y":1467},{"k":"t","x":49,"y":2112},{"k":"t","x":50,"y":2430},{"k":"t","x":51,"y":2174},{"k":"t","x":51.9,"y":1557},{"k":"t","x":53.8,"y":493},{"k":"t","x":55.7,"y":190},{"k":"t","x":60,"y":170},{"k":"t","x":70,"y":165},{"k":"t","x":80,"y":168},{"k":"t","x":88,"y":172},{"k":"t","x":90.5,"y":209},{"k":"t","x":93,"y":351},{"k":"t","x":95.5,"y":445},{"k":"t","x":98,"y":280},{"k":"t","x":100.5,"y":104},{"k":"t","x":104,"y":40},{"k":"t","x":108,"y":30},{"k":"t","x":111,"y":15},{"k":"t","x":114,"y":5}],
"p62":[{"k":"r","x":52.5,"y":0},{"k":"r","x":55,"y":270},{"k":"r","x":57.5,"y":1177},{"k":"r","x":58.8,"y":1698},{"k":"r","x":60,"y":1930},{"k":"r","x":61.2,"y":1698},{"k":"r","x":62.5,"y":1177},{"k":"r","x":65,"y":270},{"k":"r","x":67.5,"y":0},{"k":"r","x":105.5,"y":0},{"k":"r","x":108.5,"y":22},{"k":"r","x":111,"y":96},{"k":"r","x":114,"y":157},{"k":"r","x":117,"y":96},{"k":"r","x":119.5,"y":22},{"k":"r","x":122.5,"y":0},
{"k":"s","x":58,"y":0},{"k":"s","x":64,"y":145},{"k":"s","x":106,"y":145},{"k":"s","x":118,"y":0},
{"k":"t","x":12,"y":10},{"k":"t","x":30,"y":10},{"k":"t","x":45,"y":12},{"k":"t","x":52.5,"y":20},{"k":"t","x":55,"y":283},{"k":"t","x":57.5,"y":1201},{"k":"t","x":58.8,"y":1747},{"k":"t","x":60,"y":2010},{"k":"t","x":61.2,"y":1805},{"k":"t","x":62.5,"y":1310},{"k":"t","x":65,"y":428},{"k":"t","x":67.5,"y":175},{"k":"t","x":75,"y":155},{"k":"t","x":90,"y":152},{"k":"t","x":102,"y":158},{"k":"t","x":106,"y":177},{"k":"t","x":109.5,"y":211},{"k":"t","x":113,"y":229},{"k":"t","x":116.5,"y":125},{"k":"t","x":120,"y":32},{"k":"t","x":125,"y":12},{"k":"t","x":140,"y":8},{"k":"t","x":150,"y":6}],
"p63":[{"k":"r","x":52.5,"y":0},{"k":"r","x":55,"y":287},{"k":"r","x":57.5,"y":1251},{"k":"r","x":58.8,"y":1804},{"k":"r","x":60,"y":2050},{"k":"r","x":61.2,"y":1804},{"k":"r","x":62.5,"y":1251},{"k":"r","x":65,"y":287},{"k":"r","x":67.5,"y":0},{"k":"r","x":106,"y":0},{"k":"r","x":109,"y":17},{"k":"r","x":112,"y":73},{"k":"r","x":115,"y":120},{"k":"r","x":118,"y":73},{"k":"r","x":121,"y":17},{"k":"r","x":124,"y":0},
{"k":"s","x":58,"y":0},{"k":"s","x":64,"y":85},{"k":"s","x":106,"y":85},{"k":"s","x":118,"y":0},
{"k":"t","x":12,"y":10},{"k":"t","x":30,"y":10},{"k":"t","x":45,"y":12},{"k":"t","x":52.5,"y":20},{"k":"t","x":55,"y":308},{"k":"t","x":57.5,"y":1311},{"k":"t","x":58.8,"y":1897},{"k":"t","x":60,"y":2170},{"k":"t","x":61.2,"y":1931},{"k":"t","x":62.5,"y":1375},{"k":"t","x":65,"y":393},{"k":"t","x":67.5,"y":116},{"k":"t","x":75,"y":95},{"k":"t","x":90,"y":92},{"k":"t","x":104,"y":98},{"k":"t","x":107,"y":106},{"k":"t","x":110.5,"y":144},{"k":"t","x":114,"y":170},{"k":"t","x":117.5,"y":95},{"k":"t","x":121,"y":28},{"k":"t","x":126,"y":12},{"k":"t","x":140,"y":8},{"k":"t","x":150,"y":6}],
"p64":[{"k":"r","x":52.5,"y":0},{"k":"r","x":55,"y":265},{"k":"r","x":57.5,"y":1153},{"k":"r","x":58.8,"y":1663},{"k":"r","x":60,"y":1890},{"k":"r","x":61.2,"y":1663},{"k":"r","x":62.5,"y":1153},{"k":"r","x":65,"y":265},{"k":"r","x":67.5,"y":0},{"k":"r","x":105,"y":0},{"k":"r","x":108,"y":25},{"k":"r","x":111,"y":110},{"k":"r","x":114,"y":180},{"k":"r","x":117,"y":110},{"k":"r","x":120,"y":25},{"k":"r","x":123,"y":0},
{"k":"s","x":58,"y":0},{"k":"s","x":64,"y":145},{"k":"s","x":106,"y":145},{"k":"s","x":118,"y":0},
{"k":"t","x":12,"y":10},{"k":"t","x":30,"y":10},{"k":"t","x":45,"y":12},{"k":"t","x":52.5,"y":20},{"k":"t","x":55,"y":280},{"k":"t","x":57.5,"y":1189},{"k":"t","x":58.8,"y":1729},{"k":"t","x":60,"y":1990},{"k":"t","x":61.2,"y":1787},{"k":"t","x":62.5,"y":1298},{"k":"t","x":65,"y":425},{"k":"t","x":67.5,"y":174},{"k":"t","x":75,"y":155},{"k":"t","x":90,"y":150},{"k":"t","x":102,"y":155},{"k":"t","x":107,"y":168},{"k":"t","x":110.5,"y":213},{"k":"t","x":114,"y":240},{"k":"t","x":117.5,"y":127},{"k":"t","x":121,"y":35},{"k":"t","x":126,"y":12},{"k":"t","x":140,"y":8},{"k":"t","x":150,"y":6}]
},
"spacing":8,
"vconcat":[
{"hconcat":[
{"data":{"name":"p11"},"width":228,"height":192,"title":{"text":"Sc #3","dx":30},"encoding":{"x":{"field":"x","type":"quantitative","title":"Channels (FL2-A-DNA)","scale":{"domain":[0,250]}},"y":{"field":"y","type":"quantitative","title":"Number","scale":{"domain":[0,1995]},"axis":{"tickCount":20,"labelExpr":"datum.value%400?'':''+datum.value"}}},"layer":[{"transform":[{"filter":"datum.k=='r'"}],"mark":{"type":"area","fill":"#d00000"}},{"transform":[{"filter":"datum.k=='s'"}],"mark":{"type":"area","fill":{"expr":"hA"}}},{"transform":[{"filter":"datum.k=='t'"}],"mark":{"type":"line","color":"#111","strokeWidth":0.9}}]},
{"data":{"name":"p12"},"width":228,"height":192,"title":{"text":"siRNA C2","dx":14},"encoding":{"x":{"field":"x","type":"quantitative","title":"Channels (FL2-A-DNA)","scale":{"domain":[0,250]}},"y":{"field":"y","type":"quantitative","title":"Number","scale":{"domain":[0,1995]},"axis":{"tickCount":20,"labelExpr":"datum.value%400?'':''+datum.value"}}},"layer":[{"transform":[{"filter":"datum.k=='r'"}],"mark":{"type":"area","fill":"#d00000"}},{"transform":[{"filter":"datum.k=='s'"}],"mark":{"type":"area","fill":{"expr":"hA"}}},{"transform":[{"filter":"datum.k=='t'"}],"mark":{"type":"line","color":"#111","strokeWidth":0.9}}]},
{"data":{"name":"p13"},"width":228,"height":192,"title":{"text":"siRNA BD","dx":11},"encoding":{"x":{"field":"x","type":"quantitative","title":"Channels (FL2-A-DNA)","scale":{"domain":[0,250]}},"y":{"field":"y","type":"quantitative","title":"Number","scale":{"domain":[0,1745]},"axis":{"tickCount":17,"labelExpr":"datum.value%400?'':''+datum.value"}}},"layer":[{"transform":[{"filter":"datum.k=='r'"}],"mark":{"type":"area","fill":"#d00000"}},{"transform":[{"filter":"datum.k=='s'"}],"mark":{"type":"area","fill":{"expr":"hA"}}},{"transform":[{"filter":"datum.k=='t'"}],"mark":{"type":"line","color":"#111","strokeWidth":0.9}}]},
{"data":{"name":"p14"},"width":228,"height":192,"title":{"text":"siRNA I1","dx":11},"encoding":{"x":{"field":"x","type":"quantitative","title":"Channels (FL2-A-DNA)","scale":{"domain":[0,250]}},"y":{"field":"y","type":"quantitative","title":"Number","scale":{"domain":[0,1730]},"axis":{"tickCount":17,"labelExpr":"datum.value%400?'':''+datum.value"}}},"layer":[{"transform":[{"filter":"datum.k=='r'"}],"mark":{"type":"area","fill":"#d00000"}},{"transform":[{"filter":"datum.k=='s'"}],"mark":{"type":"area","fill":{"expr":"hB"}}},{"transform":[{"filter":"datum.k=='t'"}],"mark":{"type":"line","color":"#111","strokeWidth":0.9}}]}
],"spacing":38,"bounds":"flush","title":{"text":"Panc1","orient":"right","angle":0,"align":"right","baseline":"middle","fontSize":23,"offset":6,"anchor":"middle","frame":"group","dy":101}},
{"hconcat":[
{"data":{"name":"p21"},"width":228,"height":192,"encoding":{"x":{"field":"x","type":"quantitative","title":"Channels (FL2-A-DNA)","scale":{"domain":[0,250]}},"y":{"field":"y","type":"quantitative","title":"Number","scale":{"domain":[0,1750]},"axis":{"tickCount":17,"labelExpr":"datum.value%400?'':''+datum.value"}}},"layer":[{"transform":[{"filter":"datum.k=='r'"}],"mark":{"type":"area","fill":"#d00000"}},{"transform":[{"filter":"datum.k=='s'"}],"mark":{"type":"area","fill":{"expr":"hA"}}},{"transform":[{"filter":"datum.k=='t'"}],"mark":{"type":"line","color":"#111","strokeWidth":0.9}}]},
{"data":{"name":"p22"},"width":228,"height":192,"encoding":{"x":{"field":"x","type":"quantitative","title":"Channels (FL2-A-DNA)","scale":{"domain":[0,250]}},"y":{"field":"y","type":"quantitative","title":"Number","scale":{"domain":[0,1960]},"axis":{"tickCount":19,"labelExpr":"datum.value%400?'':''+datum.value"}}},"layer":[{"transform":[{"filter":"datum.k=='r'"}],"mark":{"type":"area","fill":"#d00000"}},{"transform":[{"filter":"datum.k=='s'"}],"mark":{"type":"area","fill":{"expr":"hB"}}},{"transform":[{"filter":"datum.k=='t'"}],"mark":{"type":"line","color":"#111","strokeWidth":0.9}}]},
{"data":{"name":"p23"},"width":228,"height":192,"encoding":{"x":{"field":"x","type":"quantitative","title":"Channels (FL2-A-DNA)","scale":{"domain":[0,250]}},"y":{"field":"y","type":"quantitative","title":"Number","scale":{"domain":[0,1480]},"axis":{"tickCount":15,"labelExpr":"datum.value%300?'':''+datum.value"}}},"layer":[{"transform":[{"filter":"datum.k=='r'"}],"mark":{"type":"area","fill":"#d00000"}},{"transform":[{"filter":"datum.k=='s'"}],"mark":{"type":"area","fill":{"expr":"hB"}}},{"transform":[{"filter":"datum.k=='t'"}],"mark":{"type":"line","color":"#111","strokeWidth":0.9}}]},
{"data":{"name":"p24"},"width":228,"height":192,"title":{"text":"MiaPaCa","orient":"right","angle":0,"align":"right","baseline":"middle","fontSize":23,"offset":6,"anchor":"middle","frame":"group","dy":20},"encoding":{"x":{"field":"x","type":"quantitative","title":"Channels (FL2-A-DNA)","scale":{"domain":[0,250]}},"y":{"field":"y","type":"quantitative","title":"Number","scale":{"domain":[0,1195]},"axis":{"tickCount":12,"labelExpr":"datum.value%200?'':''+datum.value"}}},"layer":[{"transform":[{"filter":"datum.k=='r'"}],"mark":{"type":"area","fill":"#d00000"}},{"transform":[{"filter":"datum.k=='s'"}],"mark":{"type":"area","fill":{"expr":"hB"}}},{"transform":[{"filter":"datum.k=='t'"}],"mark":{"type":"line","color":"#111","strokeWidth":0.9}}]}
],"spacing":38,"bounds":"flush"},
{"hconcat":[
{"data":{"name":"p31"},"width":228,"height":192,"encoding":{"x":{"field":"x","type":"quantitative","title":"Channels (FL2-A-DNA)","scale":{"domain":[0,250]}},"y":{"field":"y","type":"quantitative","title":"Number","scale":{"domain":[0,1475]},"axis":{"tickCount":15,"labelExpr":"datum.value%300?'':''+datum.value"}}},"layer":[{"transform":[{"filter":"datum.k=='r'"}],"mark":{"type":"area","fill":"#d00000"}},{"transform":[{"filter":"datum.k=='s'"}],"mark":{"type":"area","fill":{"expr":"hC"}}},{"transform":[{"filter":"datum.k=='y'"}],"mark":{"type":"area","fill":"#f0ec1e"}},{"transform":[{"filter":"datum.k=='t'"}],"mark":{"type":"line","color":"#111","strokeWidth":0.9}}]},
{"data":{"name":"p32"},"width":228,"height":192,"encoding":{"x":{"field":"x","type":"quantitative","title":"Channels (FL2-A-DNA)","scale":{"domain":[0,250]}},"y":{"field":"y","type":"quantitative","title":"Number","scale":{"domain":[0,1175]},"axis":{"tickCount":12,"labelExpr":"datum.value%200?'':''+datum.value"}}},"layer":[{"transform":[{"filter":"datum.k=='r'"}],"mark":{"type":"area","fill":"#d00000"}},{"transform":[{"filter":"datum.k=='s'"}],"mark":{"type":"area","fill":{"expr":"hC"}}},{"transform":[{"filter":"datum.k=='y'"}],"mark":{"type":"area","fill":"#f0ec1e"}},{"transform":[{"filter":"datum.k=='t'"}],"mark":{"type":"line","color":"#111","strokeWidth":0.9}}]},
{"data":{"name":"p33"},"width":228,"height":192,"encoding":{"x":{"field":"x","type":"quantitative","title":"Channels (FL2-A-DNA)","scale":{"domain":[0,250]}},"y":{"field":"y","type":"quantitative","title":"Number","scale":{"domain":[0,1475]},"axis":{"tickCount":15,"labelExpr":"datum.value%300?'':''+datum.value"}}},"layer":[{"transform":[{"filter":"datum.k=='r'"}],"mark":{"type":"area","fill":"#d00000"}},{"transform":[{"filter":"datum.k=='s'"}],"mark":{"type":"area","fill":{"expr":"hC"}}},{"transform":[{"filter":"datum.k=='y'"}],"mark":{"type":"area","fill":"#f0ec1e"}},{"transform":[{"filter":"datum.k=='t'"}],"mark":{"type":"line","color":"#111","strokeWidth":0.9}}]},
{"data":{"name":"p34"},"width":228,"height":192,"title":{"text":"H23","orient":"right","angle":0,"align":"right","baseline":"middle","fontSize":23,"offset":6,"anchor":"middle","frame":"group"},"encoding":{"x":{"field":"x","type":"quantitative","title":"Channels (FL2-A-DNA)","scale":{"domain":[0,250]}},"y":{"field":"y","type":"quantitative","title":"Number","scale":{"domain":[0,1475]},"axis":{"tickCount":15,"labelExpr":"datum.value%300?'':''+datum.value"}}},"layer":[{"transform":[{"filter":"datum.k=='r'"}],"mark":{"type":"area","fill":"#d00000"}},{"transform":[{"filter":"datum.k=='s'"}],"mark":{"type":"area","fill":{"expr":"hC"}}},{"transform":[{"filter":"datum.k=='y'"}],"mark":{"type":"area","fill":"#f0ec1e"}},{"transform":[{"filter":"datum.k=='t'"}],"mark":{"type":"line","color":"#111","strokeWidth":0.9}}]}
],"spacing":38,"bounds":"flush"},
{"hconcat":[
{"data":{"name":"p41"},"width":228,"height":192,"encoding":{"x":{"field":"x","type":"quantitative","title":"Channels (FL2-A-DNA)","scale":{"domain":[0,250]}},"y":{"field":"y","type":"quantitative","title":"Number","scale":{"domain":[0,2375]},"axis":{"tickCount":24,"labelExpr":"datum.value%500?'':''+datum.value"}}},"layer":[{"transform":[{"filter":"datum.k=='r'"}],"mark":{"type":"area","fill":"#d00000"}},{"transform":[{"filter":"datum.k=='s'"}],"mark":{"type":"area","fill":{"expr":"hA"}}},{"transform":[{"filter":"datum.k=='t'"}],"mark":{"type":"line","color":"#111","strokeWidth":0.9}}]},
{"data":{"name":"p42"},"width":228,"height":192,"encoding":{"x":{"field":"x","type":"quantitative","title":"Channels (FL2-A-DNA)","scale":{"domain":[0,250]}},"y":{"field":"y","type":"quantitative","title":"Number","scale":{"domain":[0,1970]},"axis":{"tickCount":20,"labelExpr":"datum.value%400?'':''+datum.value"}}},"layer":[{"transform":[{"filter":"datum.k=='r'"}],"mark":{"type":"area","fill":"#d00000"}},{"transform":[{"filter":"datum.k=='s'"}],"mark":{"type":"area","fill":{"expr":"hA"}}},{"transform":[{"filter":"datum.k=='t'"}],"mark":{"type":"line","color":"#111","strokeWidth":0.9}}]},
{"data":{"name":"p43"},"width":228,"height":192,"encoding":{"x":{"field":"x","type":"quantitative","title":"Channels (FL2-A-DNA)","scale":{"domain":[0,250]}},"y":{"field":"y","type":"quantitative","title":"Number","scale":{"domain":[0,1495]},"axis":{"tickCount":15,"labelExpr":"datum.value%300?'':''+datum.value"}}},"layer":[{"transform":[{"filter":"datum.k=='r'"}],"mark":{"type":"area","fill":"#d00000"}},{"transform":[{"filter":"datum.k=='s'"}],"mark":{"type":"area","fill":{"expr":"hA"}}},{"transform":[{"filter":"datum.k=='t'"}],"mark":{"type":"line","color":"#111","strokeWidth":0.9}}]},
{"data":{"name":"p44"},"width":228,"height":192,"title":{"text":"H1703","orient":"right","angle":0,"align":"right","baseline":"middle","fontSize":23,"offset":6,"anchor":"middle","frame":"group"},"encoding":{"x":{"field":"x","type":"quantitative","title":"Channels (FL2-A-DNA)","scale":{"domain":[0,250]}},"y":{"field":"y","type":"quantitative","title":"Number","scale":{"domain":[0,1495]},"axis":{"tickCount":15,"labelExpr":"datum.value%300?'':''+datum.value"}}},"layer":[{"transform":[{"filter":"datum.k=='r'"}],"mark":{"type":"area","fill":"#d00000"}},{"transform":[{"filter":"datum.k=='s'"}],"mark":{"type":"area","fill":{"expr":"hB"}}},{"transform":[{"filter":"datum.k=='t'"}],"mark":{"type":"line","color":"#111","strokeWidth":0.9}}]}
],"spacing":38,"bounds":"flush"},
{"hconcat":[
{"data":{"name":"p51"},"width":228,"height":192,"encoding":{"x":{"field":"x","type":"quantitative","title":"Channels (FL2-A-DNA)","scale":{"domain":[0,250]}},"y":{"field":"y","type":"quantitative","title":"Number","scale":{"domain":[0,2950]},"axis":{"tickCount":29,"labelExpr":"datum.value%600?'':''+datum.value"}}},"layer":[{"transform":[{"filter":"datum.k=='r'"}],"mark":{"type":"area","fill":"#d00000"}},{"transform":[{"filter":"datum.k=='s'"}],"mark":{"type":"area","fill":{"expr":"hB"}}},{"transform":[{"filter":"datum.k=='t'"}],"mark":{"type":"line","color":"#111","strokeWidth":0.9}}]},
{"data":{"name":"p52"},"width":228,"height":192,"encoding":{"x":{"field":"x","type":"quantitative","title":"Channels (FL2-A-DNA)","scale":{"domain":[0,250]}},"y":{"field":"y","type":"quantitative","title":"Number","scale":{"domain":[0,3455]},"axis":{"tickCount":35,"labelExpr":"datum.value%700?'':''+datum.value"}}},"layer":[{"transform":[{"filter":"datum.k=='r'"}],"mark":{"type":"area","fill":"#d00000"}},{"transform":[{"filter":"datum.k=='s'"}],"mark":{"type":"area","fill":{"expr":"hB"}}},{"transform":[{"filter":"datum.k=='t'"}],"mark":{"type":"line","color":"#111","strokeWidth":0.9}}]},
{"data":{"name":"p53"},"width":228,"height":192,"encoding":{"x":{"field":"x","type":"quantitative","title":"Channels (FL2-A-DNA)","scale":{"domain":[0,250]}},"y":{"field":"y","type":"quantitative","title":"Number","scale":{"domain":[0,2370]},"axis":{"tickCount":24,"labelExpr":"datum.value%500?'':''+datum.value"}}},"layer":[{"transform":[{"filter":"datum.k=='r'"}],"mark":{"type":"area","fill":"#d00000"}},{"transform":[{"filter":"datum.k=='s'"}],"mark":{"type":"area","fill":{"expr":"hB"}}},{"transform":[{"filter":"datum.k=='t'"}],"mark":{"type":"line","color":"#111","strokeWidth":0.9}}]},
{"data":{"name":"p54"},"width":228,"height":192,"title":{"text":"MDA-MB-231","orient":"right","angle":0,"align":"right","baseline":"middle","fontSize":23,"offset":6,"anchor":"middle","frame":"group"},"encoding":{"x":{"field":"x","type":"quantitative","title":"Channels (FL2-A-DNA)","scale":{"domain":[0,250]}},"y":{"field":"y","type":"quantitative","title":"Number","scale":{"domain":[0,2400]},"axis":{"tickCount":24,"labelExpr":"datum.value%500?'':''+datum.value"}}},"layer":[{"transform":[{"filter":"datum.k=='r'"}],"mark":{"type":"area","fill":"#d00000"}},{"transform":[{"filter":"datum.k=='s'"}],"mark":{"type":"area","fill":{"expr":"hB"}}},{"transform":[{"filter":"datum.k=='t'"}],"mark":{"type":"line","color":"#111","strokeWidth":0.9}}]}
],"spacing":38,"bounds":"flush"},
{"hconcat":[
{"data":{"name":"p61"},"width":228,"height":192,"encoding":{"x":{"field":"x","type":"quantitative","title":"Channels (FL2-A-DNA)","scale":{"domain":[0,120]},"axis":{"tickCount":24,"labelExpr":"datum.value%20?'':datum.label"}},"y":{"field":"y","type":"quantitative","title":"Number","scale":{"domain":[0,2495]},"axis":{"tickCount":25,"labelExpr":"datum.value%500?'':''+datum.value"}}},"layer":[{"transform":[{"filter":"datum.k=='r'"}],"mark":{"type":"area","fill":"#d00000"}},{"transform":[{"filter":"datum.k=='s'"}],"mark":{"type":"area","fill":{"expr":"hD"}}},{"transform":[{"filter":"datum.k=='t'"}],"mark":{"type":"line","color":"#111","strokeWidth":0.9}}]},
{"data":{"name":"p62"},"width":228,"height":192,"encoding":{"x":{"field":"x","type":"quantitative","title":"Channels (FL2-A-DNA)","scale":{"domain":[0,150]},"axis":{"tickCount":15,"labelExpr":"datum.value%30?'':datum.label"}},"y":{"field":"y","type":"quantitative","title":"Number","scale":{"domain":[0,2310]},"axis":{"tickCount":23,"labelExpr":"datum.value%500?'':''+datum.value"}}},"layer":[{"transform":[{"filter":"datum.k=='r'"}],"mark":{"type":"area","fill":"#d00000"}},{"transform":[{"filter":"datum.k=='s'"}],"mark":{"type":"area","fill":{"expr":"hD"}}},{"transform":[{"filter":"datum.k=='t'"}],"mark":{"type":"line","color":"#111","strokeWidth":0.9}}]},
{"data":{"name":"p63"},"width":228,"height":192,"encoding":{"x":{"field":"x","type":"quantitative","title":"Channels (FL2-A-DNA)","scale":{"domain":[0,150]},"axis":{"tickCount":15,"labelExpr":"datum.value%30?'':datum.label"}},"y":{"field":"y","type":"quantitative","title":"Number","scale":{"domain":[0,2310]},"axis":{"tickCount":23,"labelExpr":"datum.value%500?'':''+datum.value"}}},"layer":[{"transform":[{"filter":"datum.k=='r'"}],"mark":{"type":"area","fill":"#d00000"}},{"transform":[{"filter":"datum.k=='s'"}],"mark":{"type":"area","fill":{"expr":"hD"}}},{"transform":[{"filter":"datum.k=='t'"}],"mark":{"type":"line","color":"#111","strokeWidth":0.9}}]},
{"data":{"name":"p64"},"width":228,"height":192,"title":{"text":"MCF-7","orient":"right","angle":0,"align":"right","baseline":"middle","fontSize":23,"offset":6,"anchor":"middle","frame":"group","dy":6},"encoding":{"x":{"field":"x","type":"quantitative","title":"Channels (FL2-A-DNA)","scale":{"domain":[0,150]},"axis":{"tickCount":15,"labelExpr":"datum.value%30?'':datum.label"}},"y":{"field":"y","type":"quantitative","title":"Number","scale":{"domain":[0,2310]},"axis":{"tickCount":23,"labelExpr":"datum.value%500?'':''+datum.value"}}},"layer":[{"transform":[{"filter":"datum.k=='r'"}],"mark":{"type":"area","fill":"#d00000"}},{"transform":[{"filter":"datum.k=='s'"}],"mark":{"type":"area","fill":{"expr":"hD"}}},{"transform":[{"filter":"datum.k=='t'"}],"mark":{"type":"line","color":"#111","strokeWidth":0.9}}]}
],"spacing":38,"bounds":"flush"}
],
"config":{
"view":{"stroke":null},
"font":"Liberation Sans",
"area":{"interpolate":"monotone","stroke":"#1a1a1a","strokeWidth":0.6},
"line":{"interpolate":"monotone"},
"axis":{"grid":false,"domainColor":"#444","tickColor":"#444","tickSize":3,"labelFont":"Liberation Sans","labelFontSize":6.5,"labelColor":"#333","titleFont":"Liberation Sans","titleFontSize":7.5,"titleFontWeight":"normal","titleColor":"#333","labelPadding":1,"titlePadding":1,"labelOverlap":false,"labelFlush":false,"labelBound":false},
"axisX":{"tickCount":25,"labelExpr":"datum.value%50?'':datum.label"},
"axisY":{"labelAngle":270,"labelAlign":"center","labelBaseline":"bottom","titlePadding":2},
"title":{"fontSize":20,"fontWeight":"normal","color":"#111","offset":20,"font":"Liberation Sans","anchor":"middle"}
}
}
